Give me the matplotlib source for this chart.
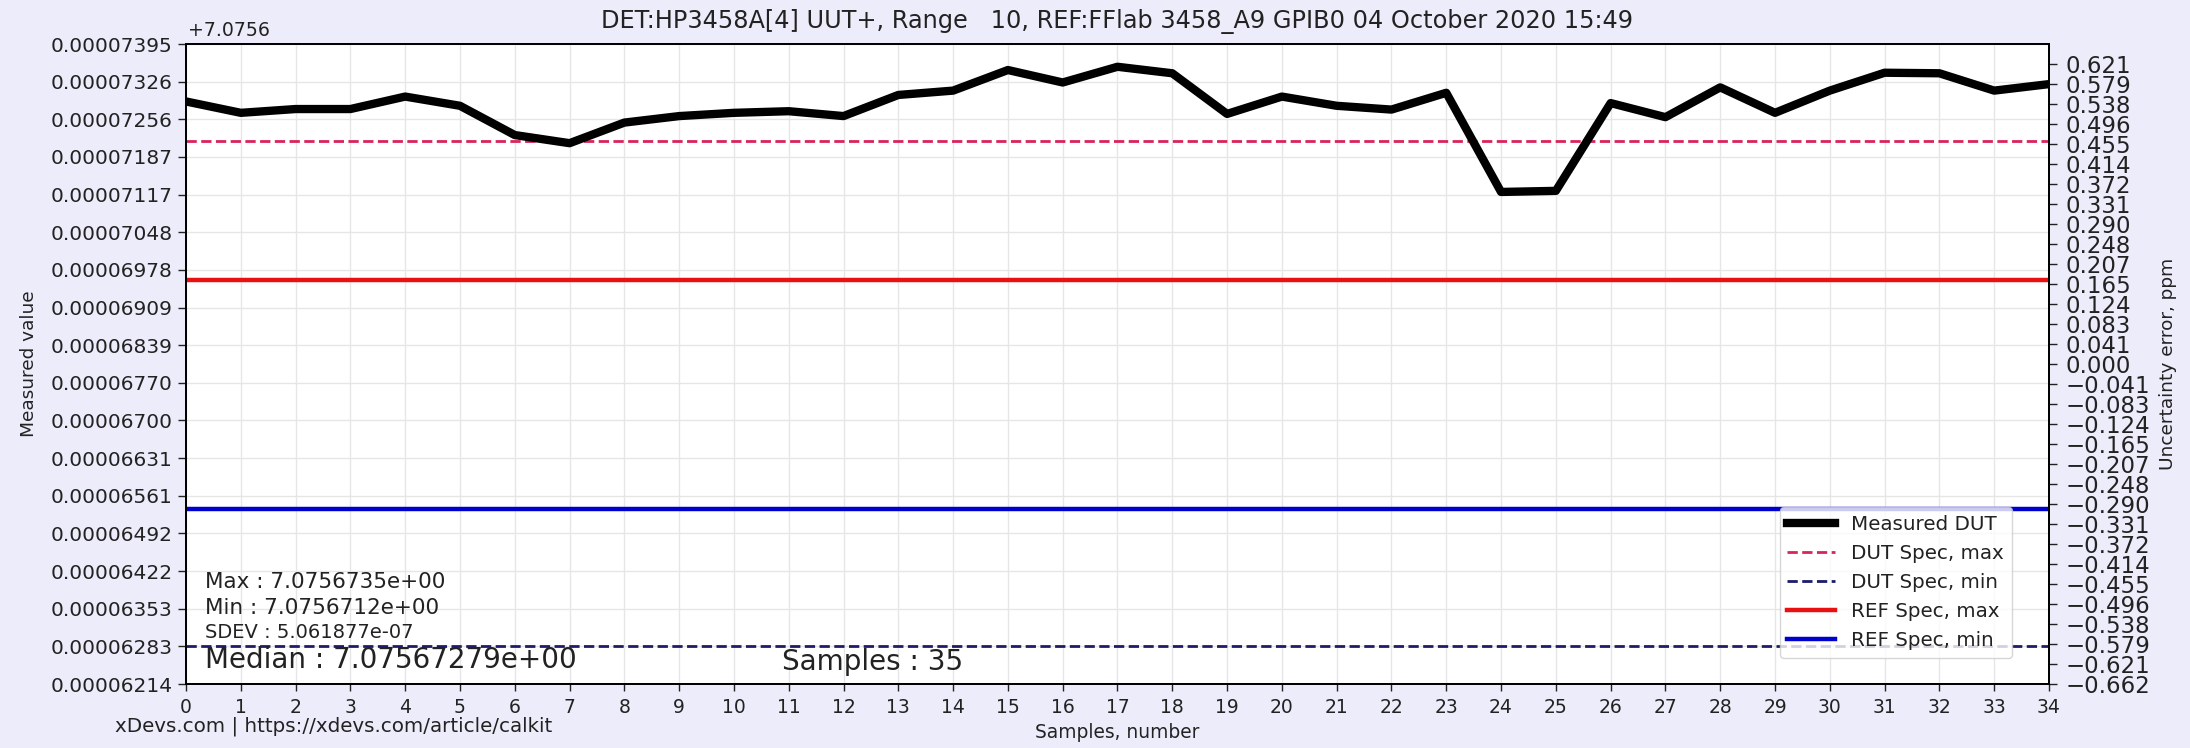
import numpy as np
import matplotlib
matplotlib.use("Agg")
import matplotlib.pyplot as plt
from matplotlib.ticker import FuncFormatter

samples = np.arange(35)
measured = np.array([
    7.07567289, 7.07567268, 7.07567275, 7.07567275, 7.07567298,
    7.07567281, 7.07567227, 7.07567212, 7.07567250, 7.07567262,
    7.07567268, 7.07567271, 7.07567262, 7.07567301, 7.07567309,
    7.07567347, 7.07567324, 7.07567353, 7.07567341, 7.07567266,
    7.07567298, 7.07567281, 7.07567274, 7.07567305, 7.07567122,
    7.07567124, 7.07567286, 7.07567260, 7.07567315, 7.07567268,
    7.07567309, 7.07567342, 7.07567341, 7.07567309, 7.07567321,
])

dut_spec_max = 7.07567216
dut_spec_min = 7.07566284
ref_spec_max = 7.07566960
ref_spec_min = 7.07566537

offset = 7.0756
y_lo, y_hi = 7.07566214, 7.07567395
ppm_lim = 0.662

title = "DET:HP3458A[4] UUT+, Range   10, REF:FFlab 3458_A9 GPIB0 04 October 2020 15:49"
stat_max = "Max : 7.0756735e+00"
stat_min = "Min : 7.0756712e+00"
stat_sdev = "SDEV : 5.061877e-07"
stat_median = "Median : 7.07567279e+00"
stat_n = "Samples : 35"
footer = "xDevs.com | https://xdevs.com/article/calkit"

plt.rcParams['font.family'] = ['DejaVu Sans']
txt = '#222222'

fig = plt.figure(figsize=(21.9, 7.48), dpi=100, facecolor='#ececfa')
ax = fig.add_axes([0.08493, 0.08556, 0.85068, 0.8556])
ax.set_facecolor('white')

l_meas, = ax.plot(samples, measured, color='black', lw=6, label='Measured DUT', zorder=5)
l_dmax = ax.axhline(dut_spec_max, color='#d8245a', lw=2, ls='--', label='DUT Spec, max')
l_dmin = ax.axhline(dut_spec_min, color='#1c1c6b', lw=2, ls='--', label='DUT Spec, min')
l_rmax = ax.axhline(ref_spec_max, color='#e81010', lw=3.2, label='REF Spec, max')
l_rmin = ax.axhline(ref_spec_min, color='#0000cd', lw=3.2, label='REF Spec, min')

ax.set_xlim(samples[0], samples[-1])
ax.set_ylim(y_lo, y_hi)
ax.set_xticks(samples)
ax.set_yticks(np.linspace(y_lo, y_hi, 18))
ax.yaxis.set_major_formatter(FuncFormatter(lambda v, p: "%.8f" % (v - offset)))
ax.grid(True, color='#e6e6e6', lw=1)
ax.set_axisbelow(True)
ax.tick_params(axis='y', labelsize=14.5, length=6, width=1, pad=3.5, colors=txt)
ax.tick_params(axis='x', labelsize=13.5, length=5, width=1, pad=5, colors=txt)
for s in ax.spines.values():
    s.set_linewidth(1.3)

ax2 = ax.twinx()
ax2.set_ylim(-ppm_lim, ppm_lim)
ax2.set_yticks(np.linspace(-ppm_lim, ppm_lim, 33)[:-1])
def ppm_fmt(v, p):
    v = np.sign(v) * max(abs(v) - 1e-9, 0.0) + 0.0
    return ("%.3f" % v).replace('-', '\u2212')
ax2.yaxis.set_major_formatter(FuncFormatter(ppm_fmt))
ax2.tick_params(axis='y', labelsize=16.5, length=6, width=1, pad=6, colors=txt)
for s in ax2.spines.values():
    s.set_linewidth(1.3)

ax.text(0.001, 1 + 14/640, "+7.0756", transform=ax.transAxes, ha='left', va='center',
        fontsize=13.6, color=txt)
ax.text(0.5, 1 + 23/640, title, transform=ax.transAxes, ha='center', va='center',
        fontsize=17.3, color=txt)

ax.text(0.010, 0.159, stat_max, transform=ax.transAxes, ha='left', va='center', fontsize=15.5, color=txt, zorder=6)
ax.text(0.010, 0.119, stat_min, transform=ax.transAxes, ha='left', va='center', fontsize=15.5, color=txt, zorder=6)
ax.text(0.010, 0.080, stat_sdev, transform=ax.transAxes, ha='left', va='center', fontsize=14, color=txt, zorder=6)
ax.text(0.010, 0.0375, stat_median, transform=ax.transAxes, ha='left', va='center', fontsize=20, color=txt, zorder=6)
ax.text(0.320, 0.034, stat_n, transform=ax.transAxes, ha='left', va='center', fontsize=20, color=txt, zorder=6)

fig.text(29/2190, 1 - 364/748, "Measured value", rotation=90, ha='center', va='center', fontsize=13.3, color=txt)
fig.text(2168/2190, 1 - 364/748, "Uncertainty error, ppm", rotation=90, ha='center', va='center', fontsize=13.3, color=txt)
fig.text(1117/2190, 1 - 732/748, "Samples, number", ha='center', va='center', fontsize=13.4, color=txt)
fig.text(115/2190, 1 - 726/748, footer, ha='left', va='center', fontsize=14.3, color=txt)

ax2.legend([l_meas, l_dmax, l_dmin, l_rmax, l_rmin],
           [l.get_label() for l in [l_meas, l_dmax, l_dmin, l_rmax, l_rmin]],
           loc='lower right', bbox_to_anchor=(0.980, 0.0406), borderaxespad=0,
           fontsize=14.3, handlelength=2.4, labelcolor=txt)

fig.savefig('out.png', dpi=100, facecolor=fig.get_facecolor())
